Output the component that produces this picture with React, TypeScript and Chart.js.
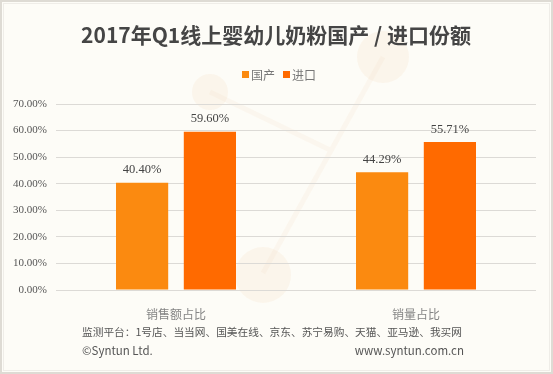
import React, { useEffect, useRef } from "react";
import { Chart, registerables } from "chart.js";

Chart.register(...registerables);

const titleText = "2017年Q1线上婴幼儿奶粉国产 / 进口份额";
const categories = ["销售额占比", "销量占比"];
const seriesNames = ["国产", "进口"];
const domesticValues = [40.4, 44.29];
const importValues = [59.6, 55.71];
const seriesColors = ["#FB8A10", "#FF6A00"];
const yTicksMax = 70;
const yTickStep = 10;
const footerLine1 = "监测平台：1号店、当当网、国美在线、京东、苏宁易购、天猫、亚马逊、我买网";
const footerLeft = "©Syntun Ltd.";
const footerRight = "www.syntun.com.cn";

const CJK = '"Noto Sans CJK SC", "Noto Sans", sans-serif';
const SERIF = '"Liberation Serif", "DejaVu Serif", "Noto Sans CJK SC", serif';

const decorPlugin = {
  id: "decor",
  beforeDraw(chart: any) {
    const ctx = chart.ctx;
    ctx.save();
    ctx.fillStyle = "#fdfcf7";
    ctx.fillRect(0, 0, chart.width, chart.height);
    // faint decorative background
    ctx.strokeStyle = "rgba(240,215,185,0.14)";
    ctx.lineWidth = 5;
    ctx.beginPath();
    ctx.moveTo(210, 92);
    ctx.lineTo(330, 150);
    ctx.moveTo(383, 57);
    ctx.lineTo(263, 273);
    ctx.stroke();
    const circles = [
      [210, 92, 18],
      [383, 57, 26],
      [263, 275, 28],
    ];
    ctx.fillStyle = "rgba(245,215,185,0.18)";
    for (const [x, y, r] of circles) {
      ctx.beginPath();
      ctx.arc(x, y, r, 0, Math.PI * 2);
      ctx.fill();
    }
    // frame
    ctx.strokeStyle = "#dedbd4";
    ctx.lineWidth = 2;
    ctx.strokeRect(1, 1, chart.width - 2, chart.height - 2);
    ctx.strokeStyle = "#efede8";
    ctx.lineWidth = 1;
    ctx.strokeRect(3.5, 3.5, chart.width - 7, chart.height - 7);
    ctx.restore();
  },
  afterDraw(chart: any) {
    const ctx = chart.ctx;
    ctx.save();
    // title
    ctx.fillStyle = "#454545";
    ctx.font = `bold 21px ${CJK}`;
    ctx.textAlign = "center";
    ctx.textBaseline = "middle";
    ctx.fillText(titleText, 276, 35);
    // legend
    ctx.font = `12px ${CJK}`;
    ctx.textAlign = "left";
    const boxes = [242, 283];
    chart.data.datasets.forEach((ds: any, i: number) => {
      const x = boxes[i];
      ctx.fillStyle = ds.backgroundColor;
      ctx.fillRect(x, 71, 7, 7);
      ctx.fillStyle = "#777";
      ctx.fillText(ds.label, x + 9, 75);
    });
    // footer
    ctx.fillStyle = "#555";
    ctx.font = `11px ${CJK}`;
    const w = ctx.measureText(footerLine1).width;
    const fs = (11 * 380) / w;
    ctx.font = `${fs.toFixed(2)}px ${CJK}`;
    ctx.textAlign = "left";
    ctx.fillText(footerLine1, 82, 332);
    ctx.font = `11.5px ${CJK}`;
    ctx.fillText(footerLeft, 82, 351);
    ctx.textAlign = "right";
    ctx.fillText(footerRight, 464, 351);
    ctx.restore();
  },
  afterDatasetsDraw(chart: any) {
    const ctx = chart.ctx;
    ctx.save();
    ctx.fillStyle = "#444";
    ctx.font = `12.5px ${SERIF}`;
    ctx.textAlign = "center";
    ctx.textBaseline = "middle";
    chart.data.datasets.forEach((ds: any, i: number) => {
      const meta = chart.getDatasetMeta(i);
      meta.data.forEach((bar: any, j: number) => {
        ctx.fillText(ds.data[j].toFixed(2) + "%", bar.x, bar.y - 12.5);
      });
    });
    ctx.restore();
  },
};

export default function App() {
  const ref = useRef<HTMLCanvasElement>(null);
  useEffect(() => {
    if (!ref.current) return;
    const chart = new Chart(ref.current, {
      type: "bar",
      data: {
        labels: categories,
        datasets: [
          {
            label: seriesNames[0],
            data: domesticValues,
            backgroundColor: seriesColors[0],
            categoryPercentage: 0.565,
            barPercentage: 0.77,
          },
          {
            label: seriesNames[1],
            data: importValues,
            backgroundColor: seriesColors[1],
            categoryPercentage: 0.565,
            barPercentage: 0.77,
          },
        ],
      },
      options: {
        responsive: false,
        animation: false,
        events: [],
        layout: { padding: { top: 104, left: 0, right: 17, bottom: 0 } },
        plugins: {
          legend: { display: false },
          title: { display: false },
          tooltip: { enabled: false },
        },
        scales: {
          x: {
            grid: { display: false },
            border: { display: false },
            ticks: { font: { family: CJK, size: 12 }, color: "#858585", padding: 9 },
            afterFit: (s: any) => {
              s.height = 84;
            },
          },
          y: {
            min: 0,
            max: yTicksMax,
            ticks: {
              stepSize: yTickStep,
              callback: (v: any) => Number(v).toFixed(2) + "%",
              font: { family: SERIF, size: 11 },
              color: "#555",
              padding: 9,
            },
            grid: { color: "#dcdad6", drawTicks: false },
            border: { display: false },
            afterFit: (s: any) => {
              s.width = 56;
            },
          },
        },
      },
      plugins: [decorPlugin],
    });
    return () => chart.destroy();
  }, []);
  return (
    <div style={{ position: "absolute", left: 0, top: 0, width: 553, height: 374 }}>
      <canvas ref={ref} width={553} height={374} />
    </div>
  );
}
